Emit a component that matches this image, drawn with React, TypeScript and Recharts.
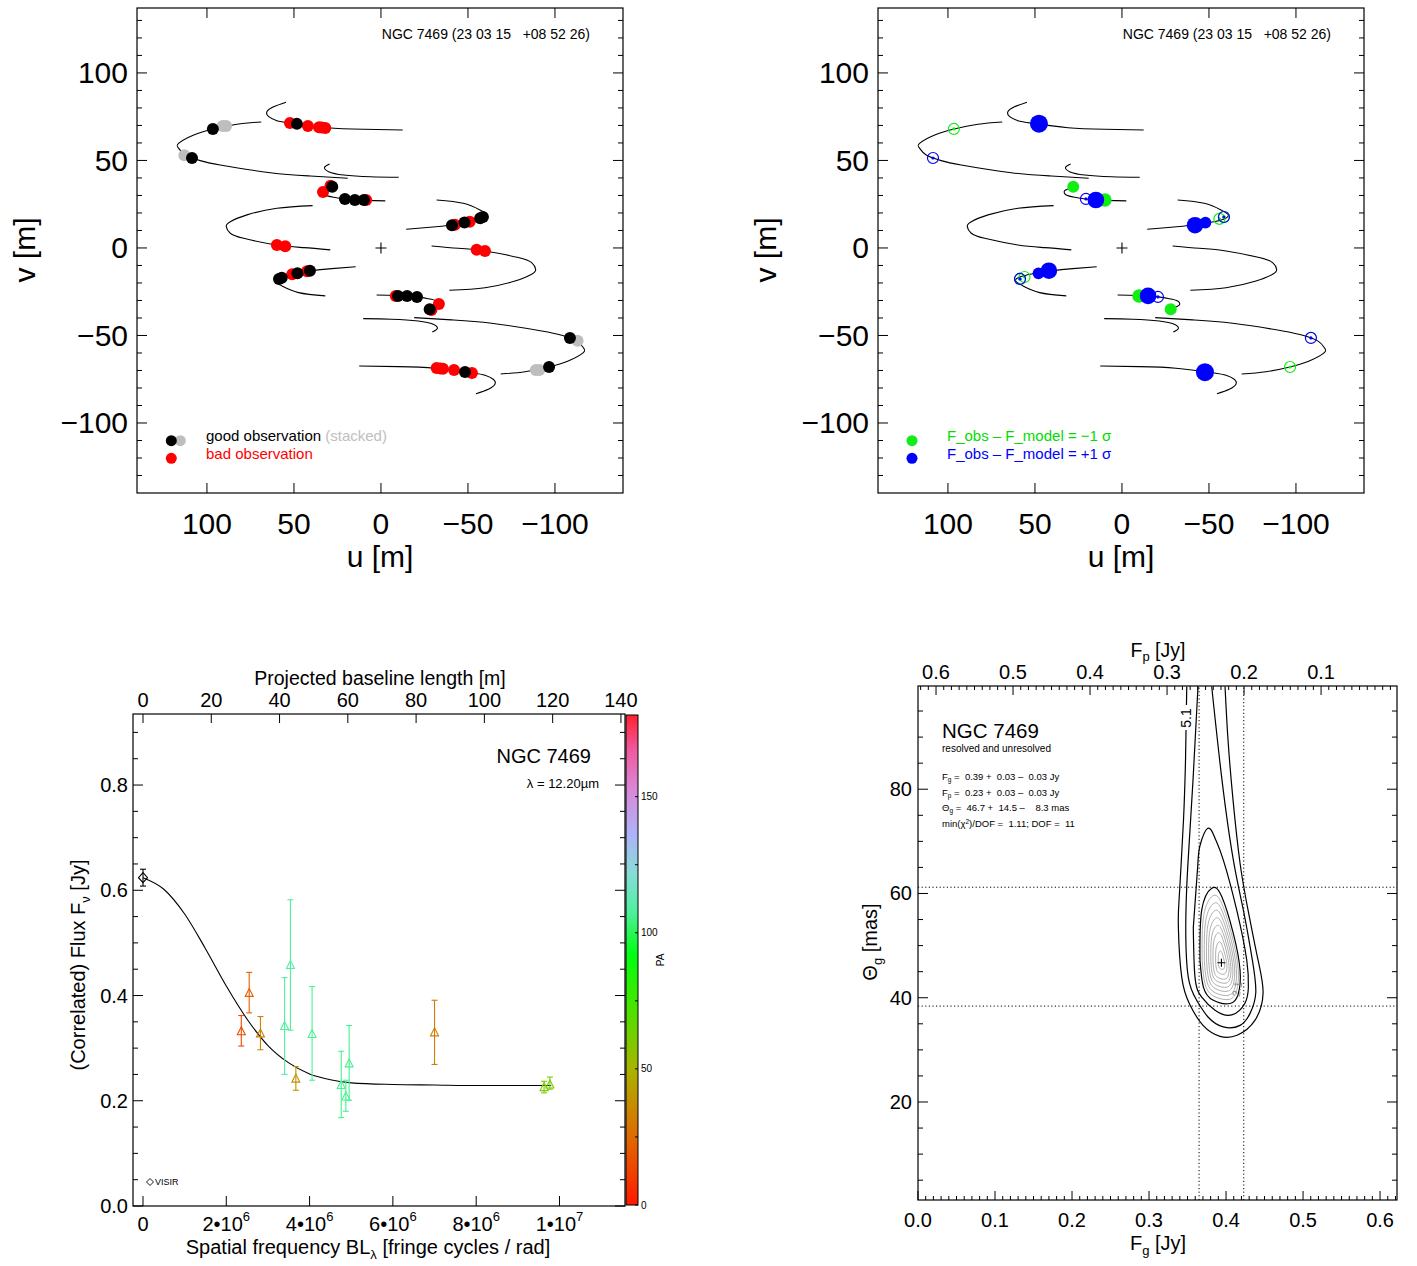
import React from 'react';
import { ComposedChart, Line, Scatter, Bar, XAxis, YAxis, ErrorBar, ReferenceLine } from 'recharts';

const FONT = '"Liberation Sans", Arial, Helvetica, sans-serif';

// ================= Panel 1 & 2 : uv coverage =================
const U_MAJOR = [100, 50, 0, -50, -100];
const V_MAJOR = [-100, -50, 0, 50, 100];
const V_ALL = [-130, -120, -110, -100, -90, -80, -70, -60, -50, -40, -30, -20, -10, 0, 10, 20, 30, 40, 50, 60, 70, 80, 90, 100, 110, 120, 130];

const TRACK_A = [[68.8, 72.0], [82.8, 70.7], [96.6, 68.0], [107.6, 64.6], [116.3, 59.8], [116.3, 57.0], [112.5, 53.1], [103.9, 49.9], [92.4, 47.4], [63.6, 43.0], [40.6, 41.1], [19.1, 39.8]];
const TRACK_A_M = [[-68.8, -72.0], [-82.8, -70.7], [-96.6, -68.0], [-107.6, -64.6], [-116.3, -59.8], [-116.3, -57.0], [-112.5, -53.1], [-103.9, -49.9], [-92.4, -47.4], [-63.6, -43.0], [-40.6, -41.1], [-19.1, -39.8]];
const TRACK_B = [[54.6, 83.3], [61.7, 80.7], [65.5, 77.9], [64.5, 75.0], [59.8, 72.7], [52.1, 71.3], [31.0, 68.7], [9.9, 67.8], [-12.5, 67.4]];
const TRACK_B_M = [[-54.6, -83.3], [-61.7, -80.7], [-65.5, -77.9], [-64.5, -75.0], [-59.8, -72.7], [-52.1, -71.3], [-31.0, -68.7], [-9.9, -67.8], [12.5, -67.4]];
const TRACK_C = [[29.5, 48.0], [32.4, 46.1], [30.1, 43.6], [21.4, 41.7], [6.1, 40.7], [-10.2, 40.4]];
const TRACK_C_M = [[-29.5, -48.0], [-32.4, -46.1], [-30.1, -43.6], [-21.4, -41.7], [-6.1, -40.7], [10.2, -40.4]];
const TRACK_D = [[28.2, 34.7], [32.9, 32.7], [32.0, 30.3], [27.2, 29.0], [19.5, 27.8], [9.9, 27.2], [-2.5, 26.9]];
const TRACK_D_M = [[-28.2, -34.7], [-32.9, -32.7], [-32.0, -30.3], [-27.2, -29.0], [-19.5, -27.8], [-9.9, -27.2], [2.5, -26.9]];
const TRACK_E = [[39.3, 24.2], [59.8, 22.7], [77.0, 18.9], [86.6, 15.0], [88.9, 12.2], [86.6, 8.4], [78.9, 5.5], [59.8, 1.7], [44.4, 0.2], [29.1, -1.1]];
const TRACK_E_M = [[-39.3, -24.2], [-59.8, -22.7], [-77.0, -18.9], [-86.6, -15.0], [-88.9, -12.2], [-86.6, -8.4], [-78.9, -5.5], [-59.8, -1.7], [-44.4, -0.2], [-29.1, 1.1]];
const TRACK_F = [[-32.0, 27.4], [-47.3, 25.5], [-56.9, 21.7], [-61.1, 18.9], [-58.8, 16.6], [-51.1, 14.7], [-40.6, 13.1], [-28.2, 11.8], [-14.5, 10.7]];
const TRACK_F_M = [[32.0, -27.4], [47.3, -25.5], [56.9, -21.7], [61.1, -18.9], [58.8, -16.6], [51.1, -14.7], [40.6, -13.1], [28.2, -11.8], [14.5, -10.7]];
const UV_TRACKS = [TRACK_A, TRACK_A_M, TRACK_B, TRACK_B_M, TRACK_C, TRACK_C_M, TRACK_D, TRACK_D_M, TRACK_E, TRACK_E_M, TRACK_F, TRACK_F_M];

const GOOD_OBS = [[96.6, 68.0], [108.6, 51.4], [48.3, 70.9], [28.0, 35.0], [20.7, 28.0], [15.0, 27.4], [9.8, 27.4], [-40.8, 13.0], [-48.0, 14.5], [-57.0, 17.0], [-58.6, 17.7],
  [-96.6, -68.0], [-108.6, -51.4], [-48.3, -70.9], [-28.0, -35.0], [-20.7, -28.0], [-15.0, -27.4], [-9.8, -27.4], [40.8, -13.0], [48.0, -14.5], [57.0, -17.0], [58.6, -17.7]];
const STACKED_OBS = [[91.0, 69.7], [89.0, 69.7], [113.0, 53.0], [-91.0, -69.7], [-89.0, -69.7], [-113.0, -53.0]];
const BAD_OBS = [[52.3, 71.4], [42.0, 69.7], [35.6, 69.0], [34.0, 68.8], [32.0, 68.6], [33.3, 32.0], [29.0, 35.5], [8.5, 27.4], [59.8, 1.7], [55.0, 1.0], [-42.5, 13.3], [-51.0, 15.0],
  [-52.3, -71.4], [-42.0, -69.7], [-35.6, -69.0], [-34.0, -68.8], [-32.0, -68.6], [-33.3, -32.0], [-29.0, -35.5], [-8.5, -27.4], [-59.8, -1.7], [-55.0, -1.0], [42.5, -13.3], [51.0, -15.0]];

const OPEN_MINUS = [[96.6, 68.0], [-56.0, 16.6], [-58.6, 17.7], [-96.6, -68.0], [56.0, -16.6], [58.6, -17.7]];
const OPEN_PLUS = [[108.6, 51.4], [20.7, 28.0], [-58.6, 17.7], [-108.6, -51.4], [-20.7, -28.0], [58.6, -17.7]];
const RESID_MINUS = [[28.0, 35.0, 1.33], [9.8, 27.4, 1.5], [-28.0, -35.0, 1.33], [-9.8, -27.4, 1.5]];
const RESID_PLUS = [[47.7, 71.0, 2.0], [15.0, 27.4, 1.85], [-42.0, 13.0, 1.85], [-48.0, 14.5, 1.3], [-47.7, -71.0, 2.0], [-15.0, -27.4, 1.85], [42.0, -13.0, 1.85], [48.0, -14.5, 1.3]];
const ORIGIN = [[0, 0]];

// ================= Panel 3 : correlated flux =================
const SF_MAJOR = [0, 2, 4, 6, 8, 10]; // x 10^6
const BL_MAJOR = [0, 20, 40, 60, 80, 100, 120, 140];
const F_MAJOR = [0, 0.2, 0.4, 0.6, 0.8];
const F_ALL = [0, 0.05, 0.1, 0.15, 0.2, 0.25, 0.3, 0.35, 0.4, 0.45, 0.5, 0.55, 0.6, 0.65, 0.7, 0.75, 0.8, 0.85, 0.9];
const SF_VALUES = [2.36, 2.55, 2.82, 3.40, 3.54, 3.67, 4.06, 4.76, 4.95, 4.87, 7.00, 9.63, 9.77];
const FLUX_VALUES = [0.332, 0.405, 0.328, 0.342, 0.458, 0.242, 0.327, 0.230, 0.271, 0.208, 0.330, 0.226, 0.231];
const FLUX_ERR_LO = [0.028, 0.038, 0.031, 0.092, 0.124, 0.022, 0.088, 0.062, 0.070, 0.028, 0.061, 0.011, 0.009];
const FLUX_ERR_HI = [0.030, 0.039, 0.032, 0.092, 0.124, 0.023, 0.090, 0.064, 0.072, 0.031, 0.061, 0.011, 0.014];
const PA_VALUES = [15, 22, 33, 108, 108, 38, 107, 106, 106, 106, 30, 60, 63];
const VISIR = [{ s: 0, f: 0.624, err: [0.016, 0.016] }];
const MODEL_S = [0, 0.5, 1, 1.5, 2, 2.5, 3, 3.5, 4, 4.5, 5, 6, 7, 8, 9.8];
const MODEL_F = [0.624, 0.602, 0.555, 0.489, 0.418, 0.355, 0.305, 0.272, 0.251, 0.240, 0.234, 0.231, 0.230, 0.229, 0.229];
const PA_MAJOR = [0, 50, 100, 150];
const PA_ALL = [0, 25, 50, 75, 100, 125, 150];
const PA_RANGE = [{ k: 'PA', top: 180 }];
const PA_STOPS: [number, string][] = [
  [0, '#ff1a00'], [25, '#e06a00'], [50, '#a8b400'], [75, '#40e800'], [92, '#00ff10'], [108, '#50f0a0'],
  [122, '#88dcd8'], [137, '#b0b0f8'], [152, '#d88ad8'], [167, '#f05aa0'], [180, '#ff2030'],
];

// ================= Panel 4 : chi^2 map =================
const FG_MAJOR = [0, 0.1, 0.2, 0.3, 0.4, 0.5, 0.6];
const FG_ALL = Array.from({ length: 63 }, (_, i) => +(i * 0.01).toFixed(2));
const FP_MAJOR = [0.1, 0.2, 0.3, 0.4, 0.5, 0.6];
const FP_ALL = Array.from({ length: 62 }, (_, i) => +((i + 1) * 0.01).toFixed(2));
const TH_MAJOR = [20, 40, 60, 80];
const TH_ALL = [5, 10, 15, 20, 25, 30, 35, 40, 45, 50, 55, 60, 65, 70, 75, 80, 85, 90, 95];
const CL_FG = [0.365, 0.423];
const CL_TH = [38.4, 61.2];
const FIT = [[0.394, 46.7]];
const CONT_51 = [[0.3490, 99.7], [0.3474, 85.7], [0.3448, 74.2], [0.3416, 65.4], [0.3390, 58.7], [0.3381, 53.5], [0.3425, 43.9], [0.3532, 38.6], [0.3701, 34.7], [0.3922, 32.6], [0.4143, 32.8], [0.4377, 35.7], [0.4481, 40.9], [0.4416, 47.2], [0.4286, 56.8], [0.4182, 65.8], [0.4091, 77.9], [0.4026, 89.4], [0.3987, 99.7]];
const CONT_41 = [[0.3636, 99.7], [0.3571, 81.7], [0.3503, 65.2], [0.3477, 53.5], [0.3510, 43.9], [0.3619, 39.5], [0.3766, 36.3], [0.3965, 34.4], [0.4182, 34.7], [0.4312, 37.0], [0.4386, 40.9], [0.4342, 47.2], [0.4225, 56.8], [0.4095, 66.4], [0.3948, 81.7], [0.3814, 99.7]];
const CONT_31 = [[0.3575, 53.5], [0.3597, 43.9], [0.3684, 40.1], [0.3857, 37.6], [0.4074, 36.7], [0.4247, 39.0], [0.4290, 42.0], [0.4269, 47.2], [0.4139, 56.8], [0.3965, 66.4], [0.3857, 70.6], [0.3762, 72.5], [0.3662, 69.2], [0.3632, 65.2], [0.3575, 53.5]];
const CONT_21 = [[0.3662, 47.2], [0.3705, 42.1], [0.3835, 39.5], [0.4052, 38.9], [0.4160, 40.8], [0.4182, 45.3], [0.4095, 52.3], [0.3944, 59.4], [0.3814, 61.0], [0.3684, 56.8], [0.3662, 47.2]];
const GRAY_1 = [[0.3690, 47.15], [0.3729, 42.55], [0.3846, 40.26], [0.4041, 39.68], [0.4138, 41.41], [0.4158, 45.43], [0.4080, 51.76], [0.3944, 58.09], [0.3827, 59.53], [0.3710, 55.78], [0.3690, 47.15]];
const GRAY_2 = [[0.3718, 47.10], [0.3753, 43.01], [0.3857, 40.97], [0.4030, 40.46], [0.4117, 42.00], [0.4134, 45.57], [0.4065, 51.20], [0.3944, 56.82], [0.3840, 58.10], [0.3736, 54.77], [0.3718, 47.10]];
const GRAY_3 = [[0.3747, 47.05], [0.3777, 43.47], [0.3868, 41.69], [0.4020, 41.24], [0.4095, 42.58], [0.4111, 45.71], [0.4050, 50.63], [0.3944, 55.56], [0.3853, 56.68], [0.3762, 53.76], [0.3747, 47.05]];
const GRAY_4 = [[0.3775, 47.00], [0.3801, 43.93], [0.3879, 42.40], [0.4009, 42.02], [0.4074, 43.17], [0.4087, 45.85], [0.4035, 50.07], [0.3944, 54.29], [0.3866, 55.25], [0.3788, 52.75], [0.3775, 47.00]];
const GRAY_5 = [[0.3803, 46.95], [0.3824, 44.39], [0.3889, 43.12], [0.3998, 42.80], [0.4052, 43.76], [0.4063, 45.99], [0.4020, 49.51], [0.3944, 53.03], [0.3879, 53.83], [0.3814, 51.75], [0.3803, 46.95]];
const GRAY_6 = [[0.3831, 46.90], [0.3848, 44.86], [0.3900, 43.84], [0.3987, 43.58], [0.4030, 44.35], [0.4039, 46.14], [0.4004, 48.95], [0.3944, 51.76], [0.3892, 52.40], [0.3840, 50.74], [0.3831, 46.90]];
const GRAY_7 = [[0.3865, 46.84], [0.3877, 45.41], [0.3913, 44.70], [0.3974, 44.52], [0.4004, 45.05], [0.4011, 46.31], [0.3986, 48.27], [0.3944, 50.24], [0.3908, 50.69], [0.3871, 49.53], [0.3865, 46.84]];
const GRAY_8 = [[0.3899, 46.78], [0.3906, 45.96], [0.3927, 45.55], [0.3961, 45.45], [0.3979, 45.76], [0.3982, 46.47], [0.3968, 47.60], [0.3944, 48.72], [0.3923, 48.98], [0.3902, 48.31], [0.3899, 46.78]];
const GRAY_CONTOURS = [GRAY_1, GRAY_2, GRAY_3, GRAY_4, GRAY_5, GRAY_6, GRAY_7, GRAY_8];
const BLACK_CONTOURS = [CONT_51, CONT_41, CONT_31, CONT_21];

// ================= helpers =================
const uv = (a: number[][]) => a.map(([u, v]) => ({ u, v }));
const uvd = (a: number[][]) => a.map(([u, v, d]) => ({ u, v, d }));
const fgth = (a: number[][]) => a.map(([fg, th]) => ({ fg, th }));

function hexToRgb(h: string) {
  return [parseInt(h.slice(1, 3), 16), parseInt(h.slice(3, 5), 16), parseInt(h.slice(5, 7), 16)];
}
function paColor(pa: number) {
  for (let i = 0; i < PA_STOPS.length - 1; i++) {
    const [p0, c0] = PA_STOPS[i];
    const [p1, c1] = PA_STOPS[i + 1];
    if (pa >= p0 && pa <= p1) {
      const t = (pa - p0) / (p1 - p0);
      const a = hexToRgb(c0), b = hexToRgb(c1);
      const c = a.map((x, k) => Math.round(x + (b[k] - x) * t));
      return `rgb(${c[0]},${c[1]},${c[2]})`;
    }
  }
  return PA_STOPS[PA_STOPS.length - 1][1];
}

type Side = 'bottom' | 'top' | 'left' | 'right';
interface TickCfg {
  side: Side; majors: number[]; majorLen: number; minorLen: number;
  span?: number; fontSize?: number; gap?: number; fmt?: (v: number) => React.ReactNode;
}
function makeTick(c: TickCfg) {
  return (props: any) => {
    const x = Number(props.x), y = Number(props.y);
    const v = Number(props.payload?.value);
    const major = c.majors.some((m) => Math.abs(m - v) < 1e-6);
    const L = major ? c.majorLen : c.minorLen;
    const fs = c.fontSize ?? 20;
    const g = c.gap ?? 0;
    const lab = major && c.fmt ? c.fmt(v) : null;
    const ls = { stroke: '#000', strokeWidth: 1 };
    const tp: any = { fontSize: fs, fontFamily: FONT, fill: '#000', dominantBaseline: 'central' };
    if (c.side === 'bottom') {
      return (<g>
        <line x1={x} y1={y} x2={x} y2={y - L} {...ls} />
        {c.span ? <line x1={x} y1={y - c.span} x2={x} y2={y - c.span + L} {...ls} /> : null}
        {lab !== null ? <text x={x} y={y + g} textAnchor="middle" {...tp}>{lab}</text> : null}
      </g>);
    }
    if (c.side === 'top') {
      return (<g>
        <line x1={x} y1={y} x2={x} y2={y + L} {...ls} />
        {lab !== null ? <text x={x} y={y - g} textAnchor="middle" {...tp}>{lab}</text> : null}
      </g>);
    }
    if (c.side === 'left') {
      return (<g>
        <line x1={x} y1={y} x2={x + L} y2={y} {...ls} />
        {c.span ? <line x1={x + c.span} y1={y} x2={x + c.span - L} y2={y} {...ls} /> : null}
        {lab !== null ? <text x={x - g} y={y} textAnchor="end" {...tp}>{lab}</text> : null}
      </g>);
    }
    return (<g>
      <line x1={x} y1={y} x2={x - L} y2={y} {...ls} />
      {lab !== null ? <text x={x + g} y={y} textAnchor="start" {...tp}>{lab}</text> : null}
    </g>);
  };
}

const fmtSigned = (v: number) => (v < 0 ? `\u2212${Math.abs(v)}` : `${v}`);
const fmtSF = (v: number) => {
  if (v === 0) return '0';
  if (v === 10) return (<><tspan>1•10</tspan><tspan dy={-8} fontSize={13}>7</tspan></>);
  return (<><tspan>{`${v}•10`}</tspan><tspan dy={-8} fontSize={13}>6</tspan></>);
};

const crossShape = (s: number) => (p: any) => (
  <path d={`M${p.cx - s},${p.cy}H${p.cx + s}M${p.cx},${p.cy - s}V${p.cy + s}`} stroke="#000" strokeWidth={1.1} fill="none" />
);
const dotShape = (color: string, r: number) => (p: any) => <circle cx={p.cx} cy={p.cy} r={r} fill={color} />;
const devShape = (color: string) => (p: any) => <circle cx={p.cx} cy={p.cy} r={4.5 * p.payload.d} fill={color} />;
const ringShape = (color: string) => (p: any) => (
  <g>
    <circle cx={p.cx} cy={p.cy} r={5.5} fill="none" stroke={color} strokeWidth={1.2} />
    <circle cx={p.cx} cy={p.cy} r={1.6} fill={color} />
  </g>
);
const triShape = (color: string) => (p: any) => (
  <path d={`M${p.cx},${p.cy - 4.5}L${p.cx + 4},${p.cy + 3.5}L${p.cx - 4},${p.cy + 3.5}Z`} fill="none" stroke={color} strokeWidth={1.1} />
);
const diamondShape = (p: any) => (
  <path d={`M${p.cx},${p.cy - 5}L${p.cx + 4.5},${p.cy}L${p.cx},${p.cy + 5}L${p.cx - 4.5},${p.cy}Z`} fill="none" stroke="#000" strokeWidth={1.1} />
);

const GREEN = '#11ee11';
const BLUE = '#0000ff';

// ================= charts =================
function UVChart({ left, kind }: { left: number; kind: 'obs' | 'resid' }) {
  const W = 486, H = 485, PL = 90, PB = 50, PT = 2, PR = 10;
  return (
    <div style={{ position: 'absolute', left: left - PL, top: 8 - PT }}>
      <ComposedChart width={W + PL + PR} height={H + PT + PB} margin={{ top: PT, right: PR, bottom: 0, left: 0 }}>
        <XAxis type="number" dataKey="u" domain={[-139.1, 140.2]} reversed allowDataOverflow ticks={U_MAJOR} interval={0}
          height={PB} tickSize={0} tickMargin={0} axisLine={false} tickLine={false}
          tick={makeTick({ side: 'bottom', majors: U_MAJOR, majorLen: 10, minorLen: 5, span: H, fontSize: 30, gap: 30, fmt: fmtSigned })} />
        <YAxis type="number" dataKey="v" domain={[-140, 137.1]} allowDataOverflow ticks={V_ALL} interval={0}
          width={PL} tickSize={0} tickMargin={0} axisLine={false} tickLine={false}
          tick={makeTick({ side: 'left', majors: V_MAJOR, majorLen: 10, minorLen: 5, span: W, fontSize: 30, gap: 9, fmt: fmtSigned })} />
        {UV_TRACKS.map((t, i) => (
          <Line key={`t${i}`} data={uv(t)} dataKey="v" type="natural" stroke="#000" strokeWidth={1.1}
            dot={false} activeDot={false} isAnimationActive={false} />
        ))}
        <Scatter data={uv(ORIGIN)} shape={crossShape(5.5)} isAnimationActive={false} />
        {kind === 'obs' ? [
          <Scatter key="g" data={uv(STACKED_OBS)} shape={dotShape('#bebebe', 6)} isAnimationActive={false} />,
          <Scatter key="r" data={uv(BAD_OBS)} shape={dotShape('#ff0000', 6)} isAnimationActive={false} />,
          <Scatter key="b" data={uv(GOOD_OBS)} shape={dotShape('#000000', 6)} isAnimationActive={false} />,
        ] : [
          <Scatter key="og" data={uv(OPEN_MINUS)} shape={ringShape(GREEN)} isAnimationActive={false} />,
          <Scatter key="ob" data={uv(OPEN_PLUS)} shape={ringShape(BLUE)} isAnimationActive={false} />,
          <Scatter key="fg" data={uvd(RESID_MINUS)} shape={devShape(GREEN)} isAnimationActive={false} />,
          <Scatter key="fb" data={uvd(RESID_PLUS)} shape={devShape(BLUE)} isAnimationActive={false} />,
        ]}
      </ComposedChart>
    </div>
  );
}

function FluxChart() {
  const W = 492, H = 492, PL = 60, PT = 40, PB = 35, PR = 22;
  const pts = SF_VALUES.map((s, i) => ({ s, f: FLUX_VALUES[i], err: [FLUX_ERR_LO[i], FLUX_ERR_HI[i]], pa: PA_VALUES[i] }));
  const model = MODEL_S.map((s, i) => ({ s, f: MODEL_F[i] }));
  const blAnchor = BL_MAJOR.map((b) => ({ b, f: 0 }));
  return (
    <div style={{ position: 'absolute', left: 133 - PL, top: 714 - PT }}>
      <ComposedChart width={W + PL + PR} height={H + PT + PB} margin={{ top: 0, right: PR, bottom: 0, left: 0 }}>
        <XAxis type="number" dataKey="s" domain={[-0.24, 11.573]} allowDataOverflow ticks={SF_MAJOR} interval={0}
          height={PB} tickSize={0} tickMargin={0} axisLine={false} tickLine={false}
          tick={makeTick({ side: 'bottom', majors: SF_MAJOR, majorLen: 10, minorLen: 5, fontSize: 20, gap: 18, fmt: fmtSF })} />
        <XAxis xAxisId="bl" orientation="top" type="number" dataKey="b" domain={[-2.93, 141.19]} allowDataOverflow ticks={BL_MAJOR} interval={0}
          height={PT} tickSize={0} tickMargin={0} axisLine={false} tickLine={false}
          tick={makeTick({ side: 'top', majors: BL_MAJOR, majorLen: 9, minorLen: 5, fontSize: 20, gap: 14, fmt: (v) => `${v}` })} />
        <YAxis type="number" dataKey="f" domain={[0, 0.935]} allowDataOverflow ticks={F_ALL} interval={0}
          width={PL} tickSize={0} tickMargin={0} axisLine={false} tickLine={false}
          tick={makeTick({ side: 'left', majors: F_MAJOR, majorLen: 10, minorLen: 5, span: W, fontSize: 20, gap: 5, fmt: (v) => v.toFixed(1) })} />
        <Line xAxisId="bl" data={blAnchor} dataKey="f" stroke="none" strokeWidth={0} dot={false} activeDot={false} isAnimationActive={false} />
        <Line data={model} dataKey="f" type="monotone" stroke="#000" strokeWidth={1.1} dot={false} activeDot={false} isAnimationActive={false} />
        {pts.map((p, i) => {
          const col = paColor(p.pa);
          return (
            <Scatter key={`p${i}`} data={[p]} shape={triShape(col)} isAnimationActive={false}>
              <ErrorBar dataKey="err" direction="y" width={3} stroke={col} strokeWidth={1.1} />
            </Scatter>
          );
        })}
        <Scatter data={VISIR} shape={diamondShape} isAnimationActive={false}>
          <ErrorBar dataKey="err" direction="y" width={3} stroke="#000" strokeWidth={1.1} />
        </Scatter>
      </ComposedChart>
    </div>
  );
}

function ColorBar() {
  const W = 12, H = 490, PR = 30, PT = 8;
  return (
    <div style={{ position: 'absolute', left: 626, top: 715 - PT }}>
      <ComposedChart data={PA_RANGE} width={W + PR} height={H + 2 * PT} margin={{ top: PT, right: 0, bottom: PT, left: 0 }}
        barCategoryGap={0} barGap={0}>
        <defs>
          <linearGradient id="paGrad" x1="0" y1="1" x2="0" y2="0">
            {PA_STOPS.map(([p, c]) => <stop key={p} offset={p / 180} stopColor={c} />)}
          </linearGradient>
        </defs>
        <XAxis type="category" dataKey="k" hide />
        <YAxis orientation="right" type="number" domain={[0, 180]} allowDataOverflow ticks={PA_ALL} interval={0}
          width={PR} tickSize={0} tickMargin={0} axisLine={false} tickLine={false}
          tick={makeTick({ side: 'right', majors: PA_MAJOR, majorLen: 3, minorLen: 3, fontSize: 10, gap: 3, fmt: (v) => `${v}` })} />
        <Bar dataKey="top" fill="url(#paGrad)" isAnimationActive={false} />
      </ComposedChart>
    </div>
  );
}

function ChiChart() {
  const W = 479, H = 514, PL = 60, PT = 35, PB = 35, PR = 5;
  const fpAnchor = FP_MAJOR.map((fp) => ({ fp, th: 50 }));
  return (
    <div style={{ position: 'absolute', left: 918 - PL, top: 686 - PT }}>
      <ComposedChart width={W + PL + PR} height={H + PT + PB} margin={{ top: 0, right: PR, bottom: 0, left: 0 }}>
        <XAxis type="number" dataKey="fg" domain={[0, 0.622]} allowDataOverflow ticks={FG_ALL} interval={0}
          height={PB} tickSize={0} tickMargin={0} axisLine={false} tickLine={false}
          tick={makeTick({ side: 'bottom', majors: FG_MAJOR, majorLen: 9, minorLen: 4, fontSize: 20, gap: 20, fmt: (v) => v.toFixed(1) })} />
        <XAxis xAxisId="fp" orientation="top" type="number" dataKey="fp" domain={[0.0014, 0.6234]} reversed allowDataOverflow ticks={FP_ALL} interval={0}
          height={PT} tickSize={0} tickMargin={0} axisLine={false} tickLine={false}
          tick={makeTick({ side: 'top', majors: FP_MAJOR, majorLen: 9, minorLen: 4, fontSize: 20, gap: 14, fmt: (v) => v.toFixed(1) })} />
        <YAxis type="number" dataKey="th" domain={[1.2, 99.8]} allowDataOverflow ticks={TH_ALL} interval={0}
          width={PL} tickSize={0} tickMargin={0} axisLine={false} tickLine={false}
          tick={makeTick({ side: 'left', majors: TH_MAJOR, majorLen: 10, minorLen: 5, span: W, fontSize: 20, gap: 6, fmt: (v) => `${v}` })} />
        <Line xAxisId="fp" data={fpAnchor} dataKey="th" stroke="none" strokeWidth={0} dot={false} activeDot={false} isAnimationActive={false} />
        {CL_FG.map((x) => <ReferenceLine key={`fx${x}`} x={x} stroke="#000" strokeWidth={1} strokeDasharray="1.2 2.4" />)}
        {CL_TH.map((y) => <ReferenceLine key={`fy${y}`} y={y} stroke="#000" strokeWidth={1} strokeDasharray="1.2 2.4" />)}
        {GRAY_CONTOURS.map((c, i) => (
          <Line key={`g${i}`} data={fgth(c)} dataKey="th" type="natural" stroke="#a6a6a6" strokeWidth={0.9}
            dot={false} activeDot={false} isAnimationActive={false} />
        ))}
        {BLACK_CONTOURS.map((c, i) => (
          <Line key={`k${i}`} data={fgth(c)} dataKey="th" type="natural" stroke="#000" strokeWidth={1.2}
            dot={false} activeDot={false} isAnimationActive={false} />
        ))}
        <Scatter data={fgth(FIT)} shape={crossShape(4)} isAnimationActive={false} />
      </ComposedChart>
    </div>
  );
}

function Overlay() {
  const t: any = { fontFamily: FONT };
  return (
    <svg width={1417} height={1266} style={{ position: 'absolute', left: 0, top: 0, pointerEvents: 'none' }}>
      {/* frames */}
      <rect x={137} y={8} width={486} height={485} fill="none" stroke="#000" strokeWidth={1.2} />
      <rect x={878} y={8} width={486} height={485} fill="none" stroke="#000" strokeWidth={1.2} />
      <rect x={133} y={714} width={492} height={492} fill="none" stroke="#000" strokeWidth={1.2} />
      <rect x={626} y={715} width={12} height={490} fill="none" stroke="#000" strokeWidth={1} />
      <rect x={918} y={686} width={479} height={514} fill="none" stroke="#000" strokeWidth={1.2} />

      {/* panel 1 */}
      <text {...t} x={590} y={39} fontSize={14} textAnchor="end" style={{ whiteSpace: 'pre' }}>NGC 7469 (23 03 15   +08 52 26)</text>
      <circle cx={180.3} cy={440.7} r={5.5} fill="#bebebe" />
      <circle cx={171.3} cy={440.7} r={5.5} fill="#000" />
      <circle cx={171.3} cy={458.3} r={5.5} fill="#ff0000" />
      <text {...t} x={206} y={441} fontSize={15} fill="#000">good observation <tspan fill="#bebebe">(stacked)</tspan></text>
      <text {...t} x={206} y={459} fontSize={15} fill="#ff0000">bad observation</text>
      <text {...t} x={380} y={556} fontSize={30} textAnchor="middle" dominantBaseline="central">u [m]</text>
      <text {...t} x={0} y={0} fontSize={30} textAnchor="middle" dominantBaseline="central" transform="translate(24,250) rotate(-90)">v [m]</text>

      {/* panel 2 */}
      <text {...t} x={1331} y={39} fontSize={14} textAnchor="end" style={{ whiteSpace: 'pre' }}>NGC 7469 (23 03 15   +08 52 26)</text>
      <circle cx={912} cy={440.7} r={5.5} fill={GREEN} />
      <circle cx={912} cy={458.3} r={5.5} fill={BLUE} />
      <text {...t} x={947} y={441} fontSize={15} fill="#00dd00">F_obs – F_model = −1 σ</text>
      <text {...t} x={947} y={459} fontSize={15} fill={BLUE}>F_obs – F_model = +1 σ</text>
      <text {...t} x={1121} y={556} fontSize={30} textAnchor="middle" dominantBaseline="central">u [m]</text>
      <text {...t} x={0} y={0} fontSize={30} textAnchor="middle" dominantBaseline="central" transform="translate(765,250) rotate(-90)">v [m]</text>

      {/* panel 3 */}
      <text {...t} x={591} y={763} fontSize={20} textAnchor="end">NGC 7469</text>
      <text {...t} x={599} y={788} fontSize={13} textAnchor="end">λ = 12.20µm</text>
      <path d="M150,1178.5L153.5,1182L150,1185.5L146.5,1182Z" fill="none" stroke="#000" strokeWidth={0.9} />
      <text {...t} x={155} y={1185} fontSize={9}>VISIR</text>
      <text {...t} x={380} y={685} fontSize={19.5} textAnchor="middle">Projected baseline length [m]</text>
      <text {...t} x={368} y={1254} fontSize={20} textAnchor="middle">Spatial frequency BL<tspan fontSize={13} dy={5}>λ</tspan><tspan dy={-5}> [fringe cycles / rad]</tspan></text>
      <text {...t} x={0} y={0} fontSize={20} textAnchor="middle" transform="translate(85,965) rotate(-90)">(Correlated) Flux F<tspan fontSize={13} dy={5}>ν</tspan><tspan dy={-5}> [Jy]</tspan></text>
      <text {...t} x={0} y={0} fontSize={10} textAnchor="middle" transform="translate(664,960) rotate(-90)">PA</text>

      {/* panel 4 */}
      <text {...t} x={942} y={738} fontSize={20.5}>NGC 7469</text>
      <text {...t} x={942} y={752} fontSize={10}>resolved and unresolved</text>
      <text {...t} x={942} y={780} fontSize={9.5} style={{ whiteSpace: 'pre' }}>F<tspan fontSize={6.5} dy={2}>g</tspan><tspan dy={-2}>{' =  0.39 +  0.03 –  0.03 Jy'}</tspan></text>
      <text {...t} x={942} y={795.5} fontSize={9.5} style={{ whiteSpace: 'pre' }}>F<tspan fontSize={6.5} dy={2}>p</tspan><tspan dy={-2}>{' =  0.23 +  0.03 –  0.03 Jy'}</tspan></text>
      <text {...t} x={942} y={811} fontSize={9.5} style={{ whiteSpace: 'pre' }}>Θ<tspan fontSize={6.5} dy={2}>g</tspan><tspan dy={-2}>{' =  46.7 +  14.5 –    8.3 mas'}</tspan></text>
      <text {...t} x={942} y={826.5} fontSize={9.5} style={{ whiteSpace: 'pre' }}>min(χ<tspan fontSize={6.5} dy={-3}>2</tspan><tspan dy={3}>{')/DOF =  1.11; DOF =  11'}</tspan></text>
      <text {...t} x={1158} y={657} fontSize={19.5} textAnchor="middle">F<tspan fontSize={13} dy={4}>p</tspan><tspan dy={-4}> [Jy]</tspan></text>
      <text {...t} x={1158} y={1250} fontSize={20} textAnchor="middle">F<tspan fontSize={13} dy={5}>g</tspan><tspan dy={-5}> [Jy]</tspan></text>
      <text {...t} x={0} y={0} fontSize={20} textAnchor="middle" transform="translate(877,942) rotate(-90)">Θ<tspan fontSize={13} dy={5}>g</tspan><tspan dy={-5}> [mas]</tspan></text>
      <rect x={1179} y={705} width={13} height={25} fill="#fff" />
      <text {...t} x={0} y={0} fontSize={14} textAnchor="middle" dominantBaseline="central" transform="translate(1186,718) rotate(-90)">5.1</text>
      <text {...t} x={0} y={0} fontSize={11} fill="#888" textAnchor="middle" dominantBaseline="central" transform="translate(1237,989) rotate(-80)">2.1</text>
    </svg>
  );
}

export default function App() {
  return (
    <div style={{ position: 'relative', width: 1417, height: 1266, background: '#fff', overflow: 'hidden', fontFamily: FONT }}>
      <style>{'body{margin:0;background:#fff}'}</style>
      <UVChart left={137} kind="obs" />
      <UVChart left={878} kind="resid" />
      <FluxChart />
      <ColorBar />
      <ChiChart />
      <Overlay />
    </div>
  );
}
